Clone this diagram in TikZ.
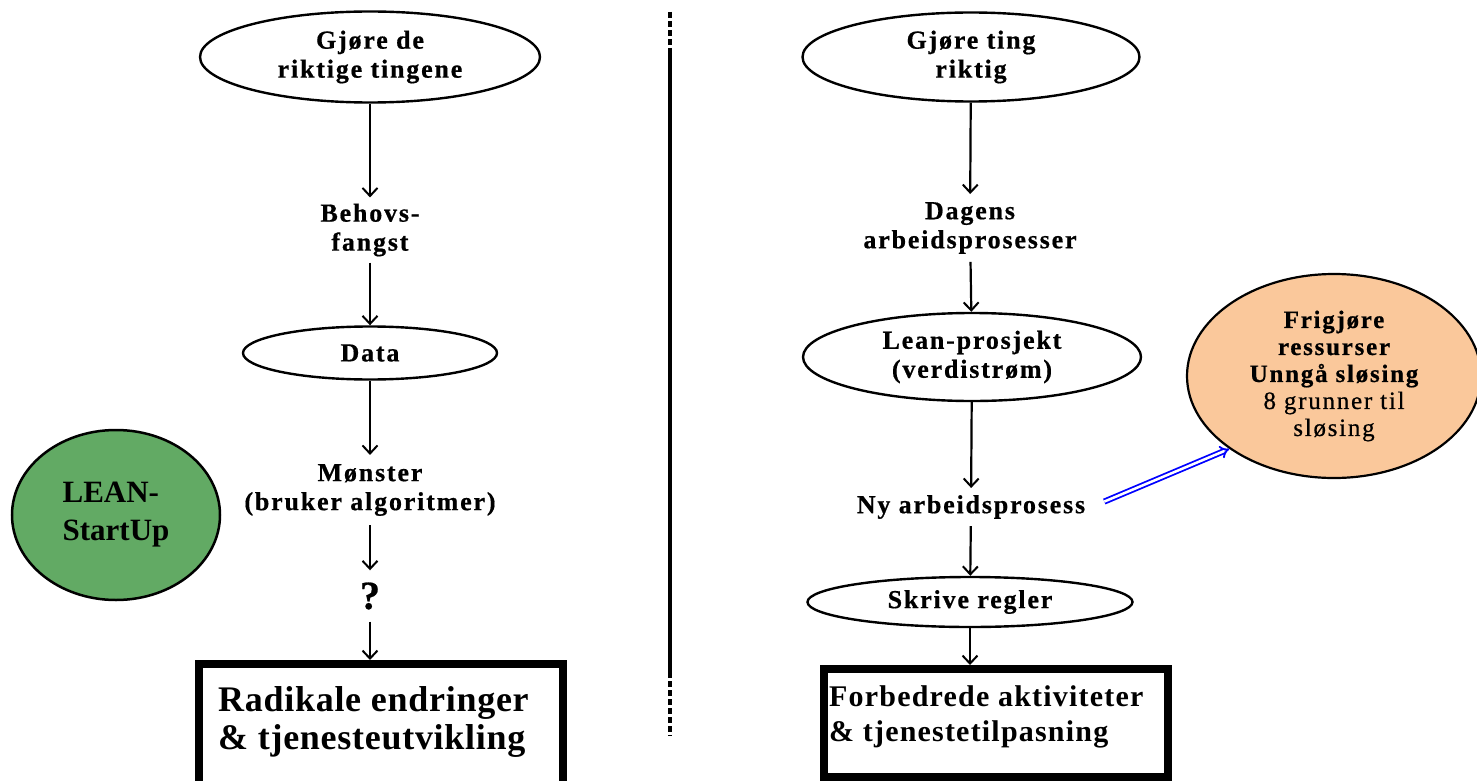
\documentclass[tikz,border=0pt]{standalone}
\usepackage{fontspec}
\setmainfont{Liberation Serif}
\newfontfamily\bodyfont{Liberation Serif}[LetterSpace=7,FakeBold=0.6]
\newfontfamily\rboxfont{Liberation Serif}[LetterSpace=4]
\newfontfamily\lboxfont{Liberation Serif}[LetterSpace=2]
\usetikzlibrary{shapes.geometric,arrows.meta}
\definecolor{leangreen}{RGB}{98,170,100}
\definecolor{waste}{RGB}{250,200,155}
\tikzset{
  txt/.style={font=\bodyfont\bfseries\fontsize{26}{29}\selectfont},
  oval/.style={ellipse, draw, line width=2.4pt, inner sep=0pt, align=center, txt},
  lbl/.style={align=center, inner sep=6pt, txt},
  arr/.style={line width=2.2pt, -{Straight Barb[length=8pt,width=15pt,line width=2pt]}},
  bigbox/.style={draw, line width=8pt, inner sep=0pt, outer sep=4pt},
  boxtext/.style={align=left, inner sep=0pt},
  sep/.style={line width=3.2pt}
}
\begin{document}
\begin{tikzpicture}[x=1pt,y=-1pt]
\useasboundingbox (0,0) rectangle (1477,781);

% ---------- left column ----------
\node[oval, minimum width=340pt, minimum height=91pt] (g1) at (370,57) {Gjøre de\\riktige tingene};
\node[lbl] (beh) at (370,230) {Behovs-\\fangst};
\node[oval, minimum width=254pt, minimum height=53pt] (data) at (370,353) {Data};
\node[lbl, inner ysep=9pt] (mon) at (370,490) {Mønster\\(bruker algoritmer)};
\node[inner sep=0pt, inner ysep=12pt, font=\bodyfont\bfseries\fontsize{40}{40}\selectfont] (q) at (370,596) {?};
\node[bigbox, minimum width=364pt, minimum height=140pt] (radbox) at (381,734) {};
\node[boxtext, font=\lboxfont\bfseries\fontsize{36}{38}\selectfont, anchor=west] (radtxt) at (218,722) {Radikale endringer\\\& tjenesteutvikling};

\draw[arr] (g1) -- (beh);
\draw[arr] (beh) -- (data);
\draw[arr] (data) -- (mon);
\draw[arr] (mon) -- (q);
\draw[arr] (q) -- (q |- radbox.north);

\node[ellipse, draw, line width=2.5pt, fill=leangreen, minimum width=208pt, minimum height=170pt, inner sep=0pt, align=left,
      font=\bfseries\fontsize{31}{38}\selectfont] (lean) at (116,515) {LEAN-\\StartUp};

% ---------- separator ----------
\coordinate (s1) at (670,12);
\coordinate (s2) at (670,52);
\coordinate (s3) at (670,672);
\coordinate (s4) at (670,736);
\draw[sep, dash pattern=on 6pt off 3pt] (s1) -- (s2);
\draw[sep] (s2) -- (s3);
\draw[sep, dash pattern=on 6pt off 3pt] (s3) -- (s4);

% ---------- right column ----------
\node[oval, minimum width=337pt, minimum height=89pt] (g2) at (971,57) {Gjøre ting\\riktig};
\node[lbl, inner ysep=8pt] (dag) at (970,228) {Dagens\\arbeidsprosesser};
\node[oval, minimum width=338pt, minimum height=88pt] (lp) at (972,357) {Lean-prosjekt\\(verdistrøm)};
\node[lbl, inner ysep=7pt] (ny) at (971,507) {Ny arbeidsprosess};
\node[oval, minimum width=325pt, minimum height=50pt] (skr) at (970,602) {Skrive regler};
\node[bigbox, minimum width=344pt, minimum height=108pt] (fbox) at (996,723) {};
\node[boxtext, font=\rboxfont\bfseries\fontsize{30}{35}\selectfont, anchor=west] (ftxt) at (829,717) {Forbedrede aktiviteter\\\& tjenestetilpasning};

\draw[arr] (g2) -- (dag);
\draw[arr] (dag) -- (lp);
\draw[arr] (lp) -- (ny);
\draw[arr] (ny) -- (skr);
\draw[arr] (skr) -- (skr |- fbox.north);

% ---------- waste ellipse ----------
\node[ellipse, draw, line width=2.2pt, fill=waste, minimum width=294pt, minimum height=204pt, inner sep=0pt, align=center,
      font=\bodyfont\fontsize{25}{27}\selectfont] (fri) at (1334,376)
  {\bfseries Frigjøre\\\bfseries ressurser\\\bfseries Unngå sløsing\\8 grunner til\\sløsing};

\draw[blue, line width=1.8pt, double=white, double distance=2.5pt, -{Implies[length=10pt]}, shorten <=14pt] (ny.east) -- (fri.south west);
\end{tikzpicture}
\end{document}
